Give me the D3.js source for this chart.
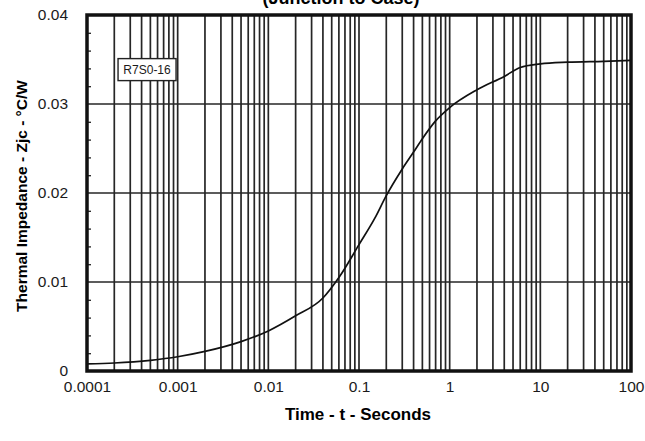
<!DOCTYPE html>
<html>
<head>
<meta charset="utf-8">
<script src="https://cdn.jsdelivr.net/npm/d3@7"></script>
<style>
  body { margin: 0; background: #fff; }
  svg { display: block; font-family: "Liberation Sans", Arial, sans-serif; }
</style>
</head>
<body>
<div id="chart"></div>
<script>
const svgWidth = 645;
const svgHeight = 441;

const margin = { top: 15, right: 14, bottom: 70, left: 87 };
const width = svgWidth - margin.left - margin.right;
const height = svgHeight - margin.top - margin.bottom;

// data
const times = [0.0001, 0.0002, 0.0005, 0.001, 0.002, 0.005, 0.01, 0.02, 0.04, 0.06,
  0.1, 0.15, 0.2, 0.3, 0.4, 0.5, 0.7, 1, 2, 4, 6, 10, 20, 50, 100];
const impedance = [0.0008, 0.0009, 0.0012, 0.0016, 0.0022, 0.0033, 0.0045, 0.0062, 0.0082, 0.0105,
  0.0142, 0.0172, 0.0197, 0.0227, 0.0246, 0.0261, 0.0281, 0.0296, 0.0316, 0.0331, 0.0341, 0.0345, 0.0347, 0.0348, 0.0349];

const xTicks = [0.0001, 0.001, 0.01, 0.1, 1, 10, 100];
const xTickLabels = ["0.0001", "0.001", "0.01", "0.1", "1", "10", "100"];
const yTicks = [0, 0.01, 0.02, 0.03, 0.04];
const yTickLabels = ["0", "0.01", "0.02", "0.03", "0.04"];
const yMinorTicks = [0.002, 0.004, 0.006, 0.008, 0.012, 0.014, 0.016, 0.018,
  0.022, 0.024, 0.026, 0.028, 0.032, 0.034, 0.036, 0.038];
const deviceLabel = "R7S0-16";

const svg = d3.select("#chart")
  .append("svg")
  .attr("width", svgWidth)
  .attr("height", svgHeight);

// title, cut off at the top edge like the scan
svg.append("text")
  .attr("x", 341)
  .attr("y", 4)
  .attr("text-anchor", "middle")
  .attr("font-weight", "bold")
  .attr("font-size", "18px")
  .text("(Junction to Case)");

const chartGroup = svg.append("g")
  .attr("transform", `translate(${margin.left}, ${margin.top})`);

const xScale = d3.scaleLog()
  .domain([0.0001, 100])
  .range([0, width]);

const yScale = d3.scaleLinear()
  .domain([0, 0.04])
  .range([height, 0]);

// vertical grid: every 1..9 of each decade
const gridX = [];
for (let e = -4; e < 2; e++) {
  for (let k = 1; k <= 9; k++) gridX.push(k * Math.pow(10, e));
}

chartGroup.selectAll(".vgrid")
  .data(gridX)
  .enter()
  .append("line")
  .attr("class", "vgrid")
  .attr("x1", d => xScale(d))
  .attr("x2", d => xScale(d))
  .attr("y1", 0)
  .attr("y2", height)
  .attr("stroke", "#262626")
  .attr("stroke-width", 1.7);

chartGroup.selectAll(".hgrid")
  .data(yTicks.slice(1, -1))
  .enter()
  .append("line")
  .attr("class", "hgrid")
  .attr("x1", 0)
  .attr("x2", width)
  .attr("y1", d => yScale(d))
  .attr("y2", d => yScale(d))
  .attr("stroke", "#262626")
  .attr("stroke-width", 1.7);

// minor ticks on the left, pointing in
chartGroup.append("g")
  .call(d3.axisLeft(yScale).tickValues(yMinorTicks).tickSize(-4).tickFormat(""))
  .call(g => g.select(".domain").remove())
  .selectAll("line")
  .attr("stroke", "#222")
  .attr("stroke-width", 1.3);

// axes labels
chartGroup.append("g")
  .call(d3.axisLeft(yScale).tickValues(yTicks).tickSize(0).tickPadding(19)
    .tickFormat((d, i) => yTickLabels[i]))
  .call(g => g.select(".domain").remove())
  .selectAll("text")
  .attr("font-size", "15.5px")
  .attr("font-family", "Liberation Sans, Arial, sans-serif")
  .attr("fill", "#1a1a1a");

chartGroup.append("g")
  .attr("transform", `translate(0, ${height})`)
  .call(d3.axisBottom(xScale).tickValues(xTicks).tickSize(0).tickPadding(10)
    .tickFormat((d, i) => xTickLabels[i]))
  .call(g => g.select(".domain").remove())
  .selectAll("text")
  .attr("font-size", "15.5px")
  .attr("font-family", "Liberation Sans, Arial, sans-serif")
  .attr("fill", "#1a1a1a");

// curve
const line = d3.line()
  .x((d, i) => xScale(times[i]))
  .y(d => yScale(d))
  .curve(d3.curveMonotoneX);

chartGroup.append("path")
  .datum(impedance)
  .attr("d", line)
  .attr("fill", "none")
  .attr("stroke", "#111")
  .attr("stroke-width", 1.7);

// frame
chartGroup.append("rect")
  .attr("x", 0)
  .attr("y", 0)
  .attr("width", width)
  .attr("height", height)
  .attr("fill", "none")
  .attr("stroke", "#111")
  .attr("stroke-width", 3.5);

// device label box
const labelG = chartGroup.append("g")
  .attr("transform", `translate(${xScale(0.00022)}, ${yScale(0.0351)})`);
labelG.append("rect")
  .attr("width", 58)
  .attr("height", 22)
  .attr("fill", "#fff")
  .attr("stroke", "#222")
  .attr("stroke-width", 1.4);
labelG.append("text")
  .attr("x", 29)
  .attr("y", 15.5)
  .attr("text-anchor", "middle")
  .attr("font-size", "12px")
  .attr("fill", "#1a1a1a")
  .text(deviceLabel);

// axis titles
svg.append("text")
  .attr("x", 358)
  .attr("y", 420)
  .attr("text-anchor", "middle")
  .attr("font-weight", "bold")
  .attr("font-size", "17px")
  .text("Time - t - Seconds");

svg.append("text")
  .attr("transform", "translate(27, 196) rotate(-90)")
  .attr("text-anchor", "middle")
  .attr("font-weight", "bold")
  .attr("font-size", "15.5px")
  .text("Thermal Impedance - Zjc - °C/W");
</script>
</body>
</html>
